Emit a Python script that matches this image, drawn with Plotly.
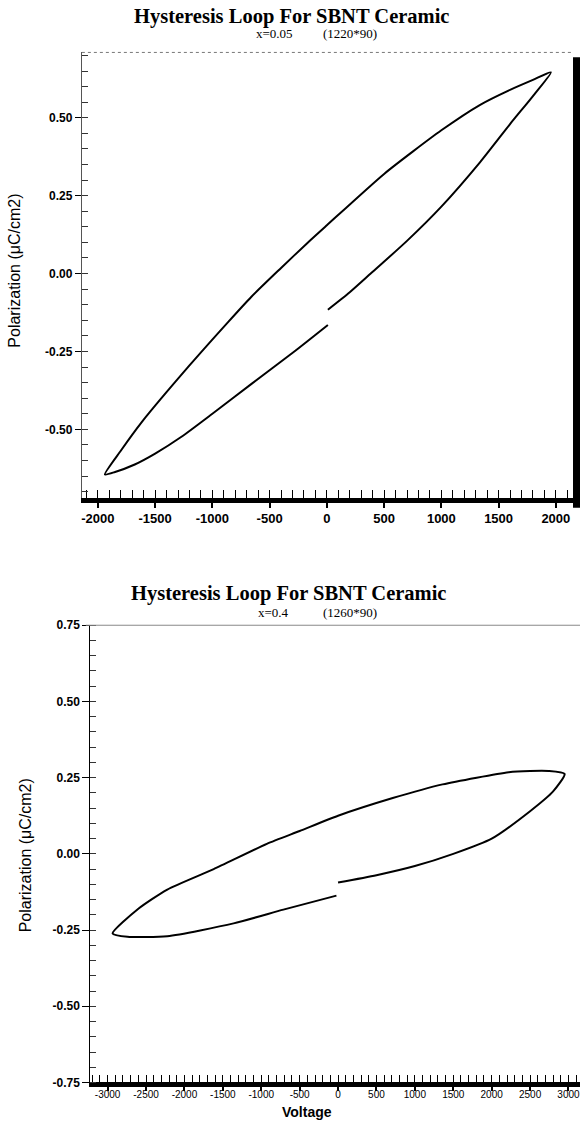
import plotly.graph_objects as go

# ---------------- data ----------------
# Top loop: x = 0.05 (1220*90)
volt_top = [9, 200, 383, 700, 1000, 1339, 1600, 1800, 1957,
            1800, 1600, 1339, 1000, 500, 0, -165, -400, -661, -861, -1200, -1617, -1800, -1939,
            -1850, -1678, -1500, -1270, -1000, -661, -287, 9]
pol_top = [-0.116, -0.06, 0.0, 0.105, 0.215, 0.358, 0.48, 0.57, 0.646,
           0.622, 0.59, 0.542, 0.46, 0.32, 0.155, 0.10, 0.018, -0.075, -0.155, -0.295, -0.477, -0.569, -0.645,
           -0.637, -0.613, -0.578, -0.524, -0.45, -0.355, -0.251, -0.165]

# Bottom loop: x = 0.4 (1260*90)
volt_bot = [0, 500, 1000, 1500, 2000, 2500, 2800, 2950,
            2741, 2500, 2223, 1360, 712, 0, -500, -927, -1619, -2223, -2600, -2935,
            -2741, -2223, -1360, -712, -21]
pol_bot = [-0.094, -0.07, -0.04, 0.0, 0.05, 0.14, 0.205, 0.262,
           0.272, 0.272, 0.268, 0.228, 0.183, 0.125, 0.075, 0.033, -0.05, -0.117, -0.18, -0.261,
           -0.272, -0.27, -0.228, -0.183, -0.137]

# tick labels
top_xticks = [-2000, -1500, -1000, -500, 0, 500, 1000, 1500, 2000]
top_xtext = ["-2000", "-1500", "-1000", "-500", "0", "500", "1000", "1500", "2000"]
top_yticks = [-0.5, -0.25, 0.0, 0.25, 0.5]
top_ytext = ["-0.50", "-0.25", "0.00", "0.25", "0.50"]
bot_xticks = [-3000, -2500, -2000, -1500, -1000, -500, 0, 500, 1000, 1500, 2000, 2500, 3000]
bot_xtext = ["-3000", "-2500", "-2000", "-1500", "-1000", "-500", "0", "500", "1000", "1500", "2000", "2500", "3000"]
bot_yticks = [-0.75, -0.5, -0.25, 0.0, 0.25, 0.5, 0.75]
bot_ytext = ["-0.75", "-0.50", "-0.25", "0.00", "0.25", "0.50", "0.75"]

title_main = "Hysteresis Loop For SBNT Ceramic"
sub_top = ["x=0.05", "(1220*90)"]
sub_bot = ["x=0.4", "(1260*90)"]
ytitle = "Polarization (μC/cm2)"
xtitle = "Voltage"

# ---------------- layout helpers ----------------
W, H = 580, 1129
def yp(px):
    return 1 - px / H
def xp(px):
    return px / W

SANS = "Liberation Sans, Arial, sans-serif"
SERIF = "Liberation Serif, Times New Roman, serif"

fig = go.Figure()
fig.add_trace(go.Scatter(x=volt_top, y=pol_top, mode="lines",
                         line=dict(color="black", width=2, shape="spline", smoothing=0.6),
                         xaxis="x", yaxis="y", showlegend=False, hoverinfo="skip"))
fig.add_trace(go.Scatter(x=volt_bot, y=pol_bot, mode="lines",
                         line=dict(color="black", width=2, shape="spline", smoothing=0.6),
                         xaxis="x2", yaxis="y2", showlegend=False, hoverinfo="skip"))

top_x_dom = [xp(81), xp(573)]
top_y_dom = [yp(497), yp(46)]
bot_x_dom = [xp(89.5), 1.0]
bot_y_dom = [yp(1089), yp(626)]

tick_common = dict(showgrid=False, zeroline=False, tickcolor="black")

fig.update_layout(
    width=W, height=H, margin=dict(l=0, r=0, t=0, b=0),
    paper_bgcolor="white", plot_bgcolor="white", showlegend=False,
    xaxis=dict(domain=top_x_dom, anchor="y", range=[-2140, 2150],
               tickmode="array", tickvals=top_xticks, ticktext=top_xtext,
               ticks="outside", ticklen=5, tickwidth=1.5,
               minor=dict(tickmode="linear", tick0=0, dtick=100, ticks="inside", ticklen=8,
                          tickwidth=1.2, tickcolor="black"),
               showline=True, linewidth=5, linecolor="black",
               tickfont=dict(family=SANS, size=13, color="black", weight="bold"),
               **tick_common),
    yaxis=dict(domain=top_y_dom, anchor="x", range=[-0.72, 0.71],
               tickmode="array", tickvals=top_yticks, ticktext=top_ytext,
               ticks="outside", ticklen=6, tickwidth=1,
               minor=dict(tickmode="linear", tick0=0, dtick=0.05, ticks="inside", ticklen=6,
                          tickwidth=1, tickcolor="#333"),
               showline=True, linewidth=1, linecolor="#555",
               tickfont=dict(family=SANS, size=12, color="black", weight="bold"),
               **tick_common),
    yaxis3=dict(overlaying="y", anchor="x", range=[-0.72, 0.71], side="left",
                tickmode="array", tickvals=top_yticks, ticks="inside", ticklen=6,
                showticklabels=False, showline=False, **tick_common),
    xaxis2=dict(domain=bot_x_dom, anchor="y2", range=[-3225, 3150],
                tickmode="array", tickvals=bot_xticks, ticktext=bot_xtext,
                ticks="outside", ticklen=4, tickwidth=1.5,
                minor=dict(tickmode="linear", tick0=0, dtick=100, ticks="inside", ticklen=7,
                           tickwidth=1.2, tickcolor="black"),
                showline=True, linewidth=5, linecolor="black",
                ticklabelstandoff=-5, ticklabeloverflow="allow",
                tickfont=dict(family=SANS, size=10, color="black"),
                **tick_common),
    yaxis2=dict(domain=bot_y_dom, anchor="x2", range=[-0.75, 0.75],
                tickmode="array", tickvals=bot_yticks, ticktext=bot_ytext,
                ticks="outside", ticklen=7, tickwidth=1,
                minor=dict(tickmode="linear", tick0=0, dtick=0.05, ticks="inside", ticklen=6,
                           tickwidth=1, tickcolor="#333"),
                showline=True, linewidth=1.2, linecolor="black",
                tickfont=dict(family=SANS, size=12, color="black", weight="bold"),
                **tick_common),
    yaxis4=dict(overlaying="y2", anchor="x2", range=[-0.75, 0.75], side="left",
                tickmode="array", tickvals=bot_yticks, ticks="inside", ticklen=5,
                showticklabels=False, showline=False, **tick_common),
)

# frame lines
fig.add_shape(type="line", xref="x domain", yref="y domain", x0=0, x1=1, y0=1, y1=1,
              line=dict(color="#777", width=1, dash="dot"))
fig.add_shape(type="line", xref="paper", yref="paper", x0=xp(576.5), x1=xp(576.5),
              y0=yp(51), y1=yp(507), line=dict(color="black", width=7))
fig.add_shape(type="line", xref="paper", yref="y2 domain", x0=xp(85), x1=1, y0=1, y1=1,
              line=dict(color="#888", width=1))

annos = [
    dict(text=title_main, x=xp(291), y=yp(10), font=dict(family=SERIF, size=20.5, color="black", weight="bold")),
    dict(text=sub_top[0], x=xp(274), y=yp(27), font=dict(family=SERIF, size=13, color="black")),
    dict(text=sub_top[1], x=xp(350), y=yp(27), font=dict(family=SERIF, size=13, color="black")),
    dict(text=title_main, x=xp(288), y=yp(594), font=dict(family=SERIF, size=20.5, color="black", weight="bold")),
    dict(text=sub_bot[0], x=xp(273), y=yp(613), font=dict(family=SERIF, size=13, color="black")),
    dict(text=sub_bot[1], x=xp(350), y=yp(613), font=dict(family=SERIF, size=13, color="black")),
    dict(text=ytitle, x=xp(14), y=yp(267), textangle=-90, font=dict(family=SANS, size=16, color="black")),
    dict(text=ytitle, x=xp(24), y=yp(859), textangle=-90, font=dict(family=SANS, size=16, color="black")),
    dict(text=xtitle, x=xp(307), y=yp(1119), font=dict(family=SANS, size=14, color="black", weight="bold")),
]
for a in annos:
    fig.add_annotation(xref="paper", yref="paper", showarrow=False, xanchor="center", yanchor="middle", **a)

fig.write_html("out.html")
